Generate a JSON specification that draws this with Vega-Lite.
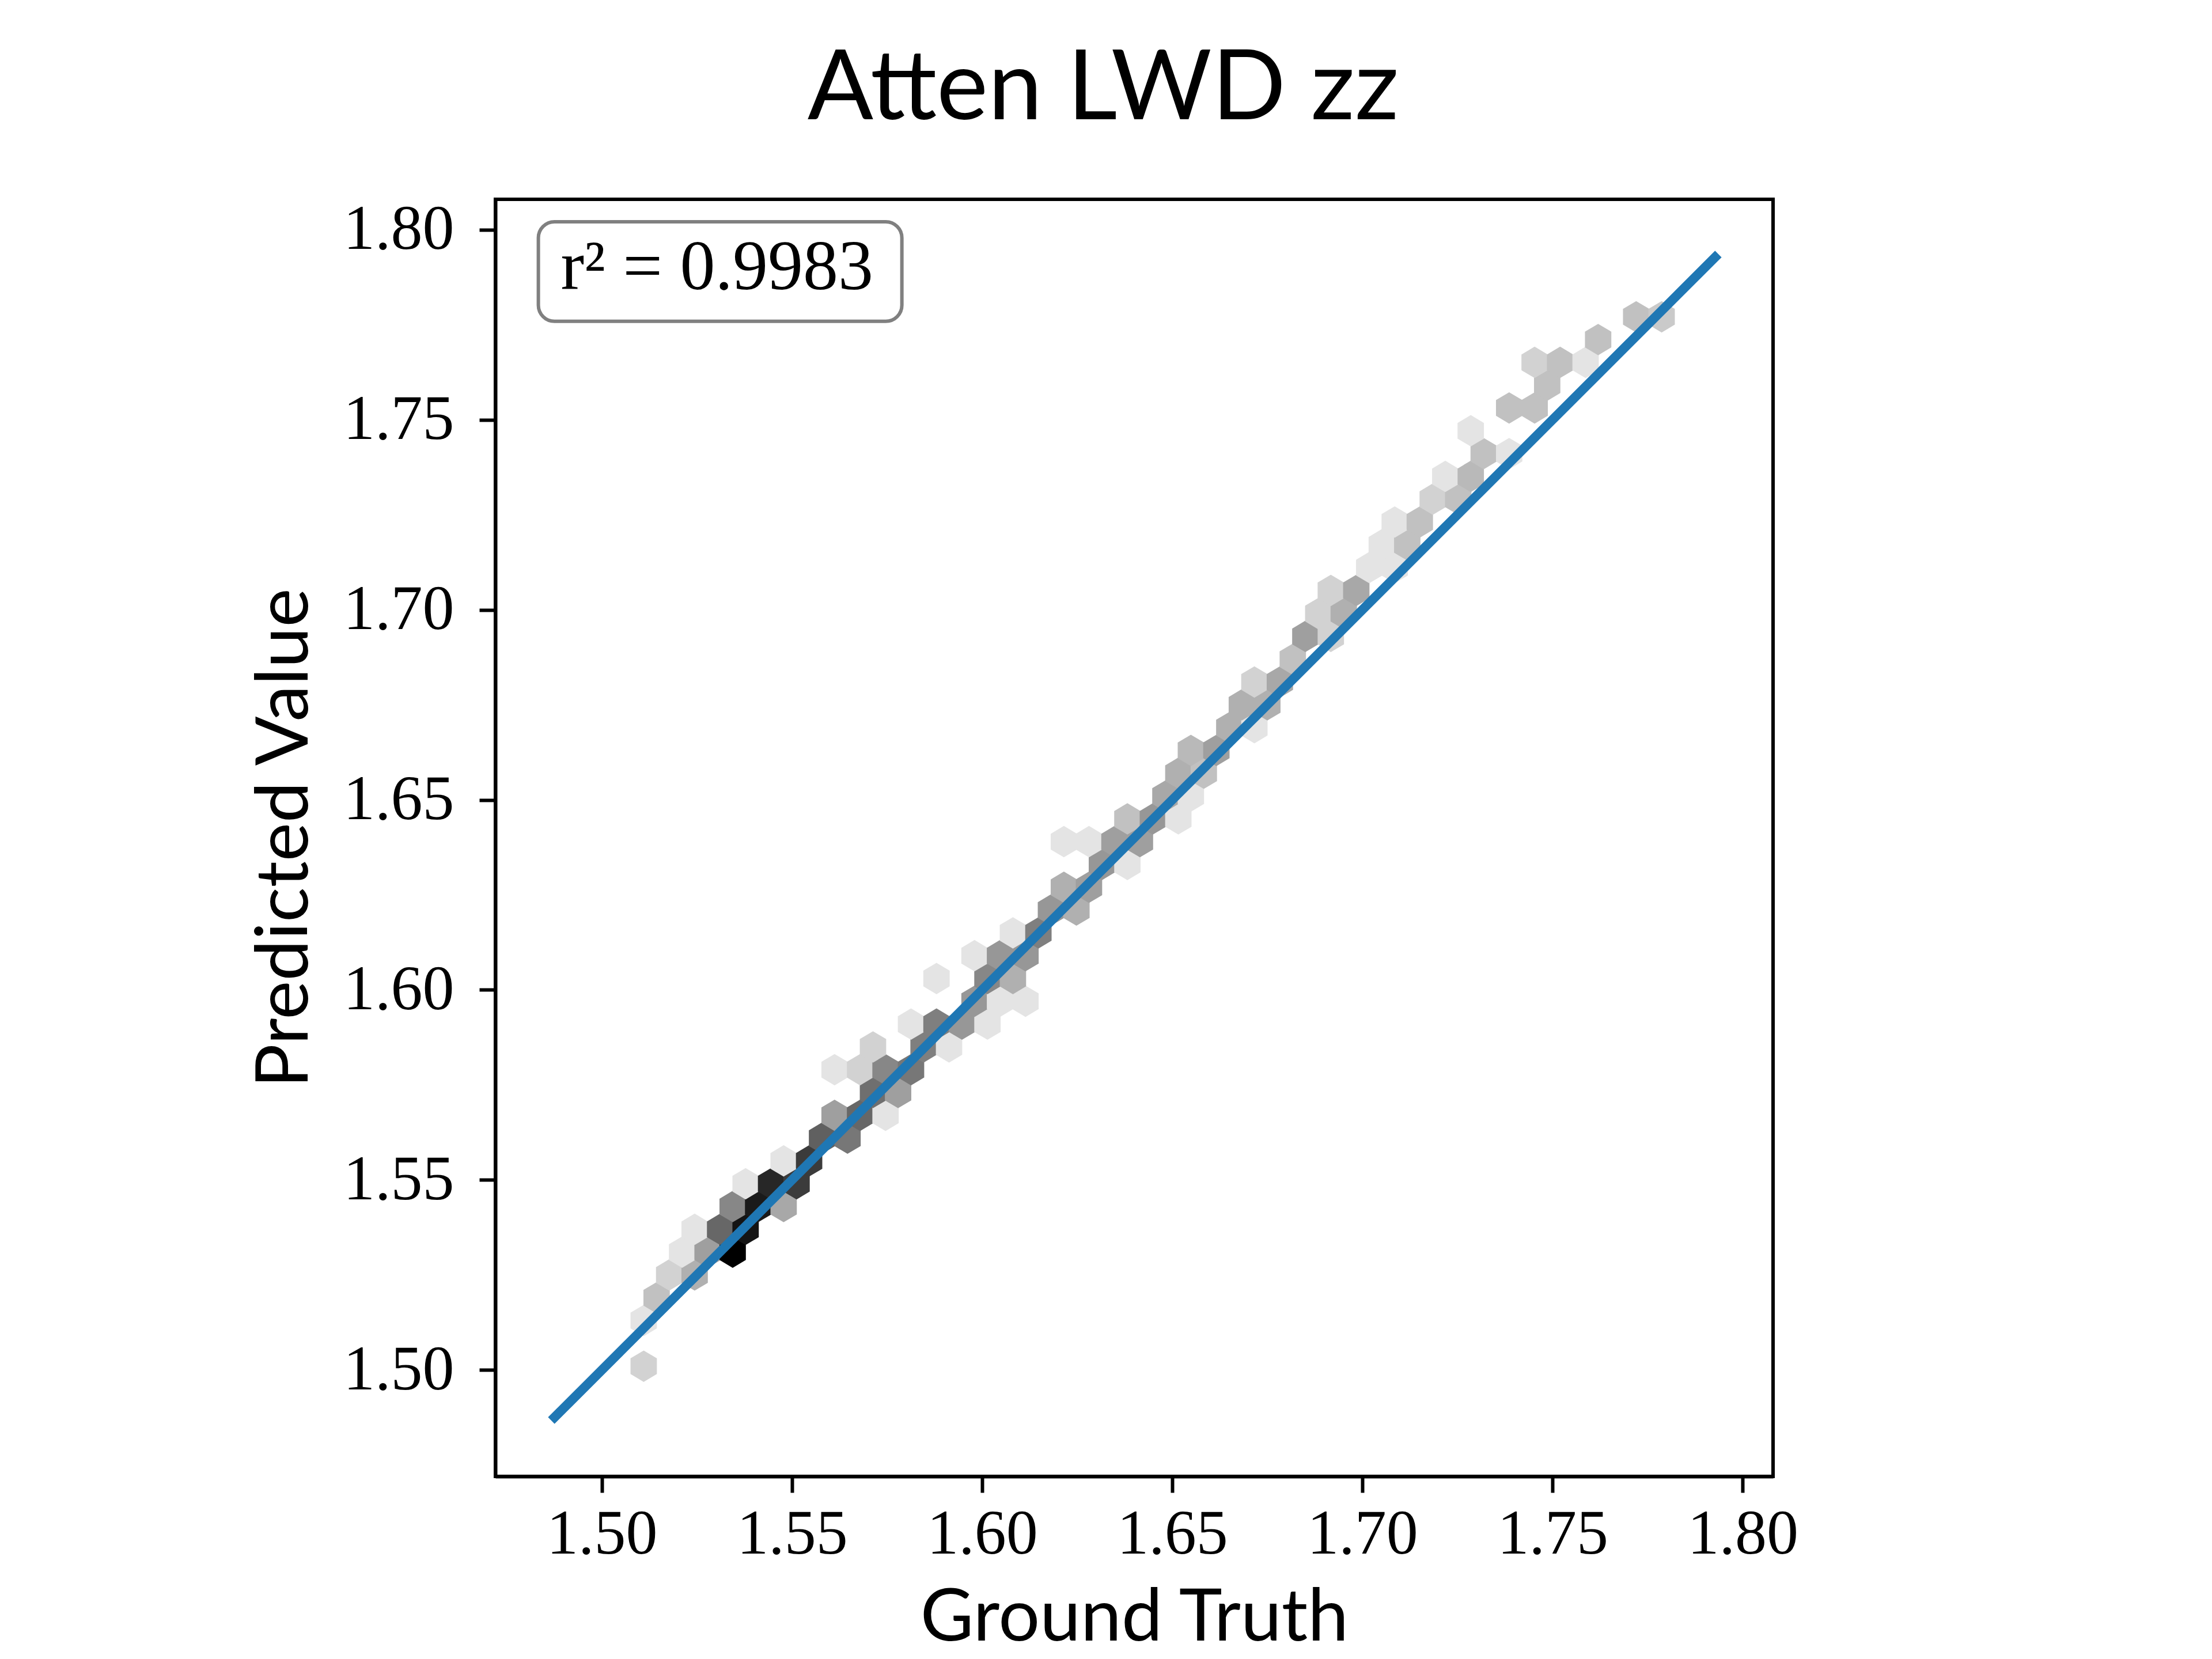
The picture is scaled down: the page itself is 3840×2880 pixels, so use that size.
{
  "$schema": "https://vega.github.io/schema/vega-lite/v6.json",
  "width": 2218,
  "height": 2217,
  "autosize": {"type": "none"},
  "padding": {"left": 860, "top": 346, "right": 762, "bottom": 317},
  "background": "white",
  "title": {
    "text": "Atten LWD zz",
    "font": "Lato",
    "fontSize": 169,
    "fontWeight": "normal",
    "color": "black",
    "anchor": "middle",
    "frame": "group",
    "baseline": "alphabetic",
    "dx": -54,
    "offset": -32
  },
  "config": {
    "view": {"stroke": "black", "strokeWidth": 6},
    "axis": {
      "grid": false,
      "domainColor": "black",
      "domainWidth": 6,
      "tickColor": "black",
      "tickWidth": 6,
      "tickSize": 28,
      "labelFont": "Liberation Serif",
      "labelFontSize": 110,
      "labelColor": "black",
      "labelFlush": false,
      "labelOverlap": false,
      "labelLimit": 0,
      "titleFont": "Lato",
      "titleFontSize": 127,
      "titleFontWeight": "normal",
      "titleColor": "black",
      "titleLimit": 0
    }
  },
  "layer": [
    {
      "data": {
        "values": [
          {"truth": 1.5110, "pred": 1.5010, "count": 3},
          {"truth": 1.5110, "pred": 1.5130, "count": 1},
          {"truth": 1.5144, "pred": 1.5190, "count": 5},
          {"truth": 1.5177, "pred": 1.5250, "count": 3},
          {"truth": 1.5244, "pred": 1.5250, "count": 7},
          {"truth": 1.5211, "pred": 1.5310, "count": 1},
          {"truth": 1.5278, "pred": 1.5310, "count": 9},
          {"truth": 1.5344, "pred": 1.5310, "count": 30},
          {"truth": 1.5244, "pred": 1.5370, "count": 1},
          {"truth": 1.5311, "pred": 1.5370, "count": 16},
          {"truth": 1.5378, "pred": 1.5370, "count": 28},
          {"truth": 1.5344, "pred": 1.5430, "count": 12},
          {"truth": 1.5411, "pred": 1.5430, "count": 27},
          {"truth": 1.5478, "pred": 1.5430, "count": 8},
          {"truth": 1.5378, "pred": 1.5490, "count": 1},
          {"truth": 1.5445, "pred": 1.5490, "count": 25},
          {"truth": 1.5512, "pred": 1.5490, "count": 22},
          {"truth": 1.5478, "pred": 1.5550, "count": 1},
          {"truth": 1.5545, "pred": 1.5550, "count": 22},
          {"truth": 1.5579, "pred": 1.5610, "count": 17},
          {"truth": 1.5646, "pred": 1.5610, "count": 14},
          {"truth": 1.5612, "pred": 1.5670, "count": 9},
          {"truth": 1.5679, "pred": 1.5670, "count": 16},
          {"truth": 1.5746, "pred": 1.5670, "count": 1},
          {"truth": 1.5713, "pred": 1.5730, "count": 15},
          {"truth": 1.5779, "pred": 1.5730, "count": 9},
          {"truth": 1.5612, "pred": 1.5790, "count": 1},
          {"truth": 1.5679, "pred": 1.5790, "count": 3},
          {"truth": 1.5746, "pred": 1.5790, "count": 12},
          {"truth": 1.5813, "pred": 1.5790, "count": 14},
          {"truth": 1.5713, "pred": 1.5850, "count": 3},
          {"truth": 1.5846, "pred": 1.5850, "count": 13},
          {"truth": 1.5913, "pred": 1.5850, "count": 1},
          {"truth": 1.5813, "pred": 1.5910, "count": 1},
          {"truth": 1.5880, "pred": 1.5910, "count": 13},
          {"truth": 1.5947, "pred": 1.5910, "count": 10},
          {"truth": 1.6014, "pred": 1.5910, "count": 1},
          {"truth": 1.5980, "pred": 1.5970, "count": 10},
          {"truth": 1.6047, "pred": 1.5970, "count": 1},
          {"truth": 1.6114, "pred": 1.5970, "count": 1},
          {"truth": 1.5880, "pred": 1.6030, "count": 1},
          {"truth": 1.6014, "pred": 1.6030, "count": 12},
          {"truth": 1.6081, "pred": 1.6030, "count": 7},
          {"truth": 1.5980, "pred": 1.6090, "count": 1},
          {"truth": 1.6047, "pred": 1.6090, "count": 10},
          {"truth": 1.6114, "pred": 1.6090, "count": 10},
          {"truth": 1.6081, "pred": 1.6150, "count": 1},
          {"truth": 1.6148, "pred": 1.6150, "count": 13},
          {"truth": 1.6181, "pred": 1.6210, "count": 10},
          {"truth": 1.6248, "pred": 1.6210, "count": 7},
          {"truth": 1.6215, "pred": 1.6270, "count": 7},
          {"truth": 1.6281, "pred": 1.6270, "count": 9},
          {"truth": 1.6315, "pred": 1.6330, "count": 10},
          {"truth": 1.6382, "pred": 1.6330, "count": 1},
          {"truth": 1.6215, "pred": 1.6390, "count": 1},
          {"truth": 1.6281, "pred": 1.6390, "count": 1},
          {"truth": 1.6348, "pred": 1.6390, "count": 9},
          {"truth": 1.6415, "pred": 1.6390, "count": 9},
          {"truth": 1.6382, "pred": 1.6450, "count": 5},
          {"truth": 1.6449, "pred": 1.6450, "count": 10},
          {"truth": 1.6516, "pred": 1.6450, "count": 1},
          {"truth": 1.6482, "pred": 1.6510, "count": 8},
          {"truth": 1.6549, "pred": 1.6510, "count": 1},
          {"truth": 1.6516, "pred": 1.6570, "count": 7},
          {"truth": 1.6583, "pred": 1.6570, "count": 5},
          {"truth": 1.6549, "pred": 1.6630, "count": 6},
          {"truth": 1.6616, "pred": 1.6630, "count": 9},
          {"truth": 1.6650, "pred": 1.6690, "count": 7},
          {"truth": 1.6716, "pred": 1.6690, "count": 1},
          {"truth": 1.6683, "pred": 1.6750, "count": 7},
          {"truth": 1.6750, "pred": 1.6750, "count": 7},
          {"truth": 1.6716, "pred": 1.6810, "count": 3},
          {"truth": 1.6783, "pred": 1.6810, "count": 8},
          {"truth": 1.6817, "pred": 1.6870, "count": 5},
          {"truth": 1.6850, "pred": 1.6930, "count": 9},
          {"truth": 1.6917, "pred": 1.6930, "count": 3},
          {"truth": 1.6884, "pred": 1.6990, "count": 3},
          {"truth": 1.6951, "pred": 1.6990, "count": 7},
          {"truth": 1.6917, "pred": 1.7051, "count": 3},
          {"truth": 1.6984, "pred": 1.7051, "count": 8},
          {"truth": 1.7018, "pred": 1.7111, "count": 1},
          {"truth": 1.7085, "pred": 1.7111, "count": 1},
          {"truth": 1.7051, "pred": 1.7171, "count": 1},
          {"truth": 1.7118, "pred": 1.7171, "count": 5},
          {"truth": 1.7085, "pred": 1.7231, "count": 1},
          {"truth": 1.7151, "pred": 1.7231, "count": 5},
          {"truth": 1.7185, "pred": 1.7291, "count": 3},
          {"truth": 1.7252, "pred": 1.7291, "count": 5},
          {"truth": 1.7218, "pred": 1.7351, "count": 1},
          {"truth": 1.7285, "pred": 1.7351, "count": 6},
          {"truth": 1.7319, "pred": 1.7411, "count": 5},
          {"truth": 1.7386, "pred": 1.7411, "count": 1},
          {"truth": 1.7285, "pred": 1.7471, "count": 1},
          {"truth": 1.7386, "pred": 1.7531, "count": 5},
          {"truth": 1.7453, "pred": 1.7531, "count": 5},
          {"truth": 1.7486, "pred": 1.7591, "count": 5},
          {"truth": 1.7453, "pred": 1.7651, "count": 3},
          {"truth": 1.7520, "pred": 1.7651, "count": 5},
          {"truth": 1.7587, "pred": 1.7651, "count": 1},
          {"truth": 1.7620, "pred": 1.7711, "count": 5},
          {"truth": 1.7720, "pred": 1.7771, "count": 5},
          {"truth": 1.7787, "pred": 1.7771, "count": 4}
        ]
      },
      "mark": {
        "type": "point",
        "shape": "M0,-1L0.84,-0.5L0.84,0.5L0,1L-0.84,0.5L-0.84,-0.5Z",
        "size": 2970,
        "filled": true,
        "opacity": 1,
        "strokeWidth": 0
      },
      "encoding": {
        "x": {
          "field": "truth",
          "type": "quantitative",
          "scale": {"domain": [1.472, 1.808], "nice": false, "zero": false},
          "axis": {
            "values": [1.5, 1.55, 1.6, 1.65, 1.7, 1.75, 1.8],
            "format": ".2f",
            "labelPadding": 18,
            "titlePadding": 29
          },
          "title": "Ground Truth"
        },
        "y": {
          "field": "pred",
          "type": "quantitative",
          "scale": {"domain": [1.472, 1.808], "nice": false, "zero": false},
          "axis": {
            "values": [1.5, 1.55, 1.6, 1.65, 1.7, 1.75, 1.8],
            "format": ".2f",
            "labelPadding": 44,
            "titlePadding": 100
          },
          "title": "Predicted Value"
        },
        "color": {
          "field": "count",
          "type": "quantitative",
          "scale": {"domain": [1, 30], "range": ["#e4e4e4", "#000000"]},
          "legend": null
        }
      }
    },
    {
      "data": {
        "values": [
          {"truth": 1.4867, "pred": 1.4867},
          {"truth": 1.7936, "pred": 1.7936}
        ]
      },
      "mark": {"type": "line", "color": "#1f77b4", "strokeWidth": 16, "strokeCap": "butt"},
      "encoding": {
        "x": {"field": "truth", "type": "quantitative"},
        "y": {"field": "pred", "type": "quantitative"}
      }
    },
    {
      "data": {
        "values": [
          {"x0": 1.4833, "x1": 1.5789, "y0": 1.7759, "y1": 1.8021, "tx": 1.5303, "ty": 1.7844, "label": "r² = 0.9983"}
        ]
      },
      "layer": [
        {
          "mark": {"type": "rect", "fill": "white", "stroke": "#808080", "strokeWidth": 6, "cornerRadius": 28},
          "encoding": {
            "x": {"field": "x0", "type": "quantitative"},
            "x2": {"field": "x1"},
            "y": {"field": "y0", "type": "quantitative"},
            "y2": {"field": "y1"}
          }
        },
        {
          "mark": {"type": "text", "font": "Liberation Serif", "fontSize": 122, "align": "center", "baseline": "alphabetic", "color": "black"},
          "encoding": {
            "x": {"field": "tx", "type": "quantitative"},
            "y": {"field": "ty", "type": "quantitative"},
            "text": {"field": "label"}
          }
        }
      ]
    }
  ]
}
